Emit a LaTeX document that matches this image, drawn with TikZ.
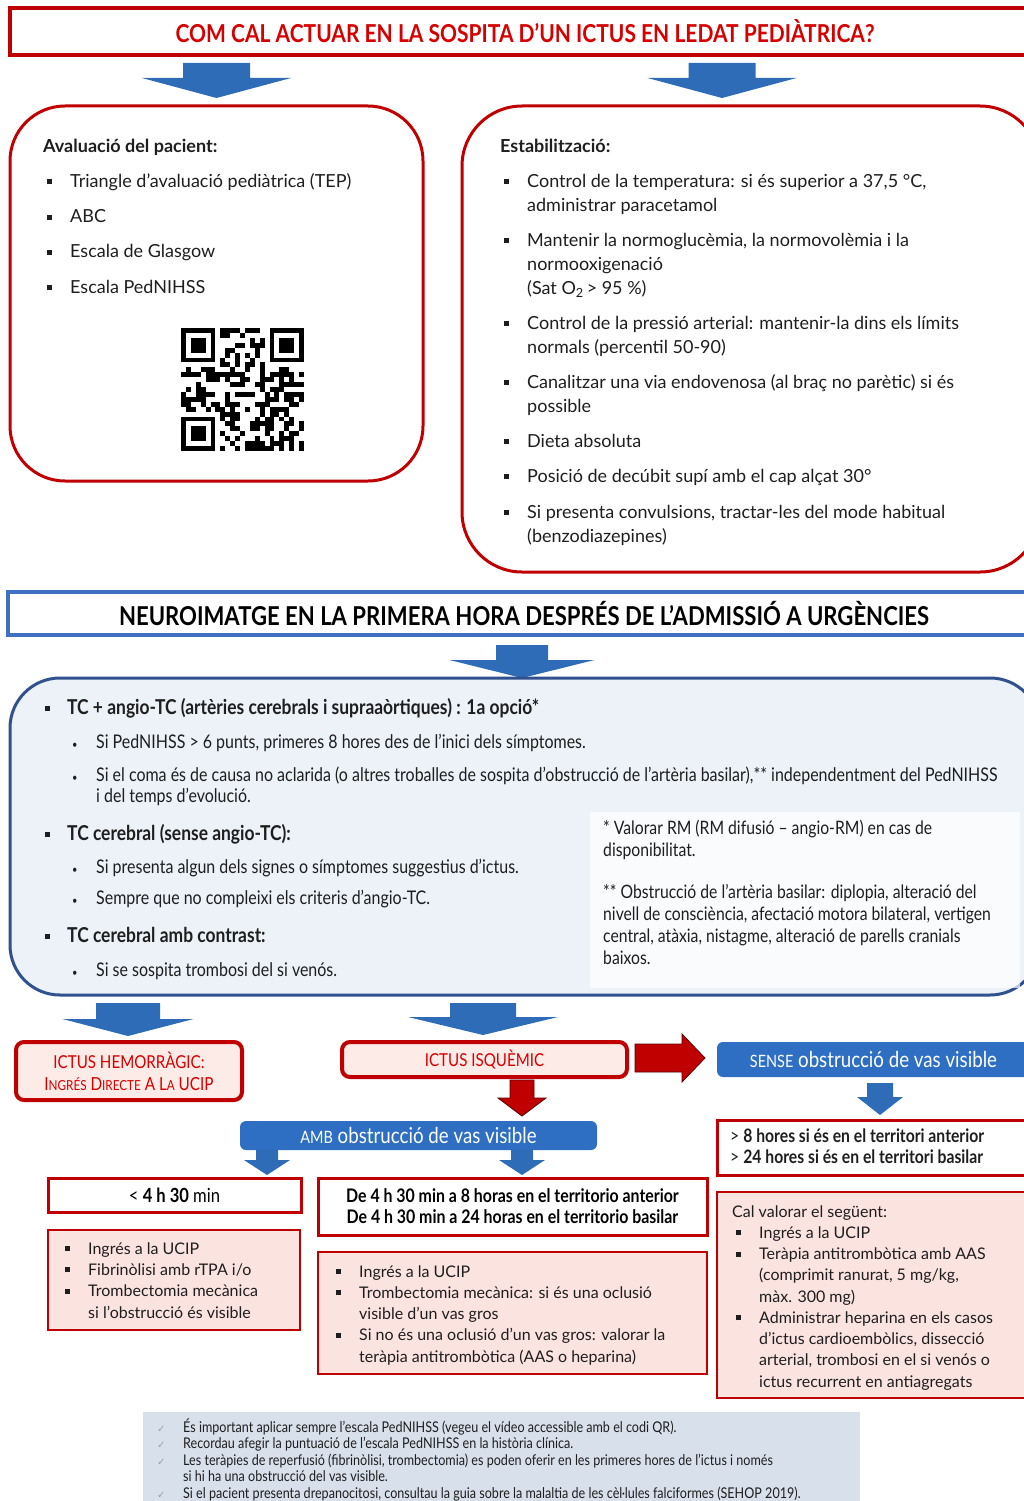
\documentclass[tikz,border=0pt]{standalone}
\usepackage{fontspec}
\setmainfont{Lato}
\newfontfamily\condfont[FakeStretch=0.85]{Lato}
\newfontfamily\symfont{DejaVu Sans}
\usetikzlibrary{positioning,calc}

\definecolor{ictred}{HTML}{C00000}
\definecolor{headred}{HTML}{D60000}
\definecolor{pinkfill}{HTML}{FBE3E0}
\definecolor{ictusfill}{HTML}{FDEBE8}
\definecolor{headblue}{HTML}{3F70C2}
\definecolor{neuroline}{HTML}{30508E}
\definecolor{neurofill}{HTML}{EDF2F9}
\definecolor{boxblue}{HTML}{2E6FC4}
\definecolor{arrowblue}{HTML}{2E6CB8}
\definecolor{notefill}{HTML}{D8E0EC}
\definecolor{checkgray}{HTML}{9AA39A}
\definecolor{txt}{HTML}{1E1E1E}

\newcommand\sqb{\makebox[23pt][l]{\raisebox{3pt}{\rule{5pt}{5pt}}}}
\newcommand\sqbs{\makebox[22pt][l]{\raisebox{3.5pt}{\rule{5pt}{5pt}}}}
\newcommand\rdb{\makebox[24pt][l]{{\fontsize{11}{11}\selectfont\textbullet}}}
\newcommand\chk{\makebox[26pt][l]{{\symfont\color{checkgray}\fontsize{10}{10}\selectfont ✓}}}
\newcommand\smc[2]{{\fontsize{18}{18}\selectfont #1}{\fontsize{13.8}{13.8}\selectfont #2}}

\tikzset{
  pics/blockdown/.style n args={4}{code={
    \path[pic actions] (-#1/2,0) -- (#1/2,0) -- (#1/2,#3) -- (#2/2,#3) -- (0,#4)
      -- (-#2/2,#3) -- (-#1/2,#3) -- cycle;}},
  pics/blockright/.style n args={4}{code={
    \path[pic actions] (0,-#1/2) -- (#3,-#1/2) -- (#3,-#2/2) -- (#4,0) -- (#3,#2/2)
      -- (#3,#1/2) -- (0,#1/2) -- cycle;}}
}

\begin{document}
\begin{tikzpicture}[x=1pt,y=-1pt,
  headbox/.style={draw=#1,line width=4pt,fill=white,inner sep=0},
  roundred/.style={draw=ictred,line width=3pt,fill=white,rounded corners=55pt},
  ictusbox/.style={draw=ictred,line width=4pt,fill=ictusfill,rounded corners=8pt,
    text=headred,font=\condfont\fontsize{17.8}{22}\selectfont},
  bluebox/.style={fill=boxblue,rounded corners=6pt,text=white,
    font=\condfont\fontsize{22}{22}\selectfont},
  framebox/.style={draw=ictred,line width=3pt,fill=white},
  pinkbox/.style={draw=ictred,line width=1.6pt,fill=pinkfill},
  list/.style={anchor=base west,align=left,inner sep=0,text=txt}]
\useasboundingbox (0,0) rectangle (1024,1501);

\node[headbox=ictred,minimum width=1030pt,minimum height=47pt,text=headred,
  font=\condfont\bfseries\fontsize{24.7}{24.7}\selectfont] (head) at (525,31.5)
  {COM CAL ACTUAR EN LA SOSPITA D’UN ICTUS EN LEDAT PEDIÀTRICA?};
\pic[fill=arrowblue] at (216.5,63) {blockdown={67}{149}{15}{35}};
\pic[fill=arrowblue] at (722,63) {blockdown={67}{149}{15}{35}};

\node[roundred,minimum width=413pt,minimum height=375pt] (eval) at (216.5,293.5) {};
\node[list,font=\fontsize{18}{35.25}\selectfont] (evaltxt) at (43,293)
  {\textbf{Avaluació del pacient:}\\
   \hspace*{4pt}\sqb Triangle d’avaluació pediàtrica (TEP)\\
   \hspace*{4pt}\sqb ABC\\
   \hspace*{4pt}\sqb Escala de Glasgow\\
   \hspace*{4pt}\sqb Escala PedNIHSS};
\begin{scope}[shift={(181,328)}]
  \foreach \fx/\fy in {0/0,18/0,0/18}{
    \fill (\fx*4.92,\fy*4.92) rectangle ++(7*4.92,7*4.92);
    \fill[white] (\fx*4.92+4.92,\fy*4.92+4.92) rectangle ++(5*4.92,5*4.92);
    \fill (\fx*4.92+2*4.92,\fy*4.92+2*4.92) rectangle ++(3*4.92,3*4.92);
  }
  \pgfmathsetseed{17}
  \foreach \i in {0,...,24}{\foreach \j in {0,...,24}{
    \pgfmathtruncatemacro\qrout{((\i<8)&&(\j<8))||((\i>16)&&(\j<8))||((\i<8)&&(\j>16))}
    \ifnum\qrout=0
      \pgfmathtruncatemacro\qrbit{rnd<0.5}
      \ifnum\qrbit=1 \fill (\i*4.92,\j*4.92) rectangle ++(4.92,4.92); \fi
    \fi
  }}
\end{scope}

\node[roundred,rounded corners=60pt,minimum width=578pt,minimum height=466pt] (stab) at (751,339) {};
\node[list,font=\fontsize{18}{24}\selectfont] (stabtxt) at (500,542)
  {\textbf{Estabilització:}\\[11pt]
   \hspace*{4pt}\sqb Control de la temperatura: si és superior a 37,5 °C,\\
   \hspace*{27pt}administrar paracetamol\\[11pt]
   \hspace*{4pt}\sqb Mantenir la normoglucèmia, la normovolèmia i la\\
   \hspace*{27pt}normooxigenació\\
   \hspace*{27pt}(Sat O\textsubscript{2}\,> 95 \%)\\[11pt]
   \hspace*{4pt}\sqb Control de la pressió arterial: mantenir-la dins els límits\\
   \hspace*{27pt}normals (percentil 50-90)\\[11pt]
   \hspace*{4pt}\sqb Canalitzar una via endovenosa (al braç no parètic) si és\\
   \hspace*{27pt}possible\\[11pt]
   \hspace*{4pt}\sqb Dieta absoluta\\[11pt]
   \hspace*{4pt}\sqb Posició de decúbit supí amb el cap alçat 30°\\[12pt]
   \hspace*{4pt}\sqb Si presenta convulsions, tractar-les del mode habitual\\
   \hspace*{27pt}(benzodiazepines)};

\node[headbox=headblue,minimum width=1032pt,minimum height=43pt,
  font=\condfont\bfseries\fontsize{26}{26}\selectfont] (neurohead) at (524,613.5)
  {NEUROIMATGE EN LA PRIMERA HORA DESPRÉS DE L’ADMISSIÓ A URGÈNCIES};
\pic[fill=arrowblue] at (522,645) {blockdown={52}{145}{15}{33}};

\node[draw=neuroline,line width=3pt,fill=neurofill,rounded corners=50pt,
  minimum width=1030pt,minimum height=317pt] (neuro) at (525,836.5) {};
\node[fill=white,fill opacity=0.7,minimum width=430pt,minimum height=176pt] (foot) at (805,900) {};
\node[list,font=\condfont\fontsize{18.8}{21}\selectfont] (neurotxt) at (45,976)
  {\sqbs{\fontsize{20.5}{21}\selectfont\bfseries TC + angio-TC (artèries cerebrals i supraaòrtiques) : 1a opció*}\\[13pt]
   \hspace*{27pt}\rdb Si PedNIHSS > 6 punts, primeres 8 hores des de l’inici dels símptomes.\\[12pt]
   \hspace*{27pt}\rdb Si el coma és de causa no aclarida (o altres troballes de sospita d’obstrucció de l’artèria basilar),** independentment del PedNIHSS\\
   \hspace*{51pt}i del temps d’evolució.\\[17pt]
   \sqbs{\fontsize{20.5}{21}\selectfont\bfseries TC cerebral (sense angio-TC):}\\[12pt]
   \hspace*{27pt}\rdb Si presenta algun dels signes o símptomes suggestius d’ictus.\\[10pt]
   \hspace*{27pt}\rdb Sempre que no compleixi els criteris d’angio-TC.\\[17pt]
   \sqbs{\fontsize{20.5}{21}\selectfont\bfseries TC cerebral amb contrast:}\\[13pt]
   \hspace*{27pt}\rdb Si se sospita trombosi del si venós.};
\node[list,font=\condfont\fontsize{18.5}{21.7}\selectfont] (foottxt) at (603,964)
  {* Valorar RM (RM difusió – angio-RM) en cas de\\
   disponibilitat.\\[21pt]
   ** Obstrucció de l’artèria basilar: diplopia, alteració del\\
   nivell de consciència, afectació motora bilateral, vertigen\\
   central, atàxia, nistagme, alteració de parells cranials\\
   baixos.};

\pic[fill=arrowblue] at (128,1003) {blockdown={64}{131}{16}{33}};
\pic[fill=arrowblue] at (483,1003) {blockdown={66}{150}{14}{32}};
\node[ictusbox,minimum width=226pt,minimum height=58pt,align=center] (hemo) at (129,1071)
  {ICTUS HEMORRÀGIC:\\
   \smc{I}{NGRÉS} \smc{D}{IRECTE} \smc{A}{} \smc{L}{A} {\fontsize{18}{18}\selectfont UCIP}};
\node[ictusbox,minimum width=285pt,minimum height=35pt] (isq) at (484.5,1059.5) {ICTUS ISQUÈMIC};
\pic[fill=ictred,draw=ictred!45!black,line width=0.8pt] at (635,1058) {blockright={28}{48}{47}{70}};
\node[bluebox,minimum width=313pt,minimum height=35pt] (sense) at (873.5,1059.5)
  {{\fontsize{17}{17}\selectfont SENSE} obstrucció de vas visible};
\pic[fill=ictred,draw=ictred!45!black,line width=0.8pt] at (522,1080) {blockdown={24}{48}{18}{36}};
\pic[fill=arrowblue] at (880,1083) {blockdown={26}{46}{14}{32}};
\node[bluebox,minimum width=357pt,minimum height=29pt] (amb) at (418.5,1135.5)
  {{\fontsize{17}{17}\selectfont AMB} obstrucció de vas visible};
\pic[fill=arrowblue] at (267,1150) {blockdown={22}{46}{10}{25}};
\pic[fill=arrowblue] at (522,1150) {blockdown={22}{46}{10}{25}};

\node[framebox,minimum width=313pt,minimum height=55pt] (hores) at (873.5,1147.5) {};
\node[list,font=\condfont\fontsize{18.5}{21}\selectfont] (horestxt) at (730,1163)
  {> \textbf{8 hores si és en el territori anterior}\\
   > \textbf{24 hores si és en el territori basilar}};
\node[framebox,minimum width=253pt,minimum height=34pt,font=\condfont\fontsize{19.5}{19.5}\selectfont] (lt4) at (174.5,1195)
  {< \textbf{4 h 30} min};
\node[framebox,minimum width=389pt,minimum height=57pt,align=center,
  font=\condfont\bfseries\fontsize{18.7}{21}\selectfont] (de4) at (512.5,1206.5)
  {De 4 h 30 min a 8 horas en el territorio anterior\\
   De 4 h 30 min a 24 horas en el territorio basilar};

\node[pinkbox,minimum width=252pt,minimum height=100pt] (trlt4) at (174,1280) {};
\node[list,font=\fontsize{16}{21.3}\selectfont] (trlt4txt) at (65,1318)
  {\sqb Ingrés a la UCIP\\
   \sqb Fibrinòlisi amb rTPA i/o\\
   \sqb Trombectomia mecànica\\
   \hspace*{23pt}si l’obstrucció és visible};
\node[pinkbox,minimum width=389pt,minimum height=122pt] (trde4) at (512.5,1313) {};
\node[list,font=\fontsize{16}{21.25}\selectfont] (trde4txt) at (336,1362)
  {\sqb Ingrés a la UCIP\\
   \sqb Trombectomia mecànica: si és una oclusió\\
   \hspace*{23pt}visible d’un vas gros\\
   \sqb Si no és una oclusió d’un vas gros: valorar la\\
   \hspace*{23pt}teràpia antitrombòtica (AAS o heparina)};
\node[pinkbox,line width=2.2pt,minimum width=313pt,minimum height=206pt] (trsense) at (873.5,1295) {};
\node[list,font=\fontsize{16}{21.25}\selectfont] (trsensetxt) at (732,1387)
  {Cal valorar el següent:\\
   \hspace*{4pt}\sqb Ingrés a la UCIP\\
   \hspace*{4pt}\sqb Teràpia antitrombòtica amb AAS\\
   \hspace*{27pt}(comprimit ranurat, 5 mg/kg,\\
   \hspace*{27pt}màx. 300 mg)\\
   \hspace*{4pt}\sqb Administrar heparina en els casos\\
   \hspace*{27pt}d’ictus cardioembòlics, dissecció\\
   \hspace*{27pt}arterial, trombosi en el si venós o\\
   \hspace*{27pt}ictus recurrent en antiagregats};

\node[fill=notefill,minimum width=717pt,minimum height=93pt] (notes) at (501.5,1458.5) {};
\node[list,font=\condfont\fontsize{14.8}{16.5}\selectfont] (notestxt) at (157,1498)
  {\chk És important aplicar sempre l’escala PedNIHSS (vegeu el vídeo accessible amb el codi QR).\\
   \chk Recordau afegir la puntuació de l’escala PedNIHSS en la història clínica.\\
   \chk Les teràpies de reperfusió (fibrinòlisi, trombectomia) es poden oferir en les primeres hores de l’ictus i només\\
   \hspace*{26pt}si hi ha una obstrucció del vas visible.\\
   \chk Si el pacient presenta drepanocitosi, consultau la guia sobre la malaltia de les cèl·lules falciformes (SEHOP 2019).};
\end{tikzpicture}
\end{document}
